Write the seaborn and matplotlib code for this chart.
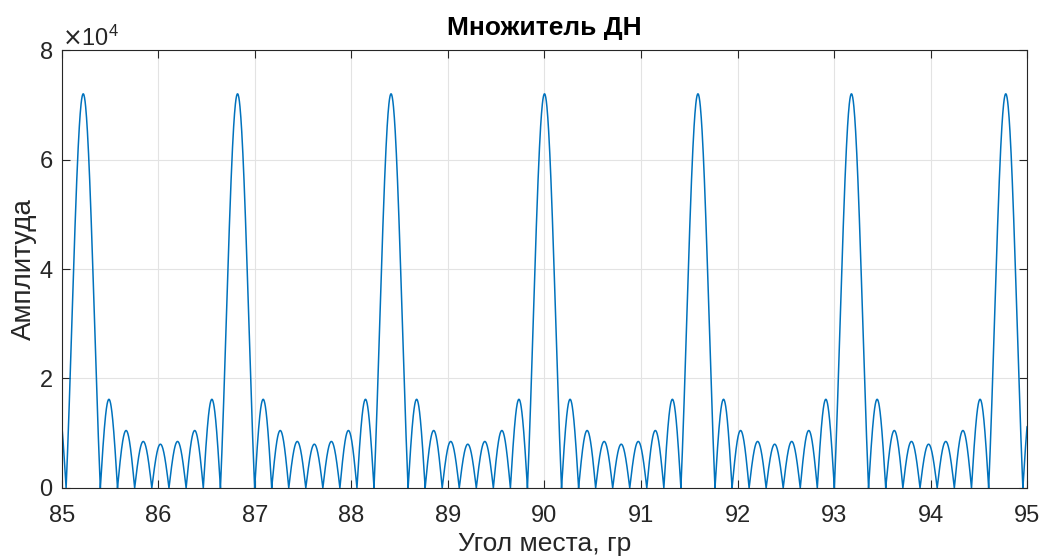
import numpy as np
import pandas as pd
import matplotlib
matplotlib.use("Agg")
import matplotlib.pyplot as plt
import seaborn as sns
from matplotlib.ticker import ScalarFormatter

# ---- data ----
main_peak_deg = [85.22, 86.82, 88.41, 90.00, 91.59, 93.18, 94.78]   # main-lobe centres
main_peak_amp = [72000, 72000, 72000, 72000, 72000, 72000, 72000]
side_lobe_amp = [16200, 10500, 8500, 8000, 8500, 10500, 16200]     # sidelobes between main lobes
x_ticks = [85, 86, 87, 88, 89, 90, 91, 92, 93, 94, 95]
y_ticks = [0, 20000, 40000, 60000, 80000]

title = "Множитель ДН"
xlabel = "Угол места, гр"
ylabel = "Амплитуда"

# ---- build the lobes (arches between the zeros) ----
period = (main_peak_deg[-1] - main_peak_deg[0]) / (len(main_peak_deg) - 1)
centres = [main_peak_deg[0] - period] + main_peak_deg + [main_peak_deg[-1] + period]
n_zero = len(side_lobe_amp) + 2
segs = []
for i in range(len(centres) - 1):
    a, b = centres[i], centres[i + 1]
    d = (b - a) / n_zero
    z = [a + k * d for k in range(1, n_zero)]
    for k in range(len(side_lobe_amp)):
        segs.append((z[k], z[k + 1], side_lobe_amp[k], False))
    if i < len(centres) - 2:
        d2 = (centres[i + 2] - b) / n_zero
        segs.append((z[-1], b + d2, main_peak_amp[i], True))

xs, ys = [], []
for x0, x1, amp, is_main in segs:
    t = np.linspace(0, 1, 120)
    xs.append(x0 + (x1 - x0) * t)
    shape = np.abs(np.sinc(2 * t - 1)) if is_main else np.abs(np.sin(np.pi * t))
    ys.append(amp * shape)
df = pd.DataFrame({"x": np.concatenate(xs), "y": np.concatenate(ys)})

# ---- style ----
sns.set_theme(style="whitegrid")
plt.rcParams["font.family"] = ["Liberation Sans", "DejaVu Sans"]

fig = plt.figure(figsize=(10.43, 5.57), dpi=100)
ax = fig.add_axes([0.0594, 0.1239, 0.9253, 0.7863])

sns.lineplot(data=df, x="x", y="y", ax=ax, color="#0072BD", linewidth=1.1,
             estimator=None, sort=False)

ax.set_xlim(85, 95)
ax.set_ylim(0, 80000)
ax.set_xticks(x_ticks)
ax.set_yticks(y_ticks)
fmt = ScalarFormatter(useMathText=True)
fmt.set_powerlimits((0, 0))
ax.yaxis.set_major_formatter(fmt)
ax.yaxis.get_offset_text().set_fontsize(17)
ax.yaxis.get_offset_text().set_color("#262626")

ax.set_facecolor("white")
ax.grid(True, color="#e3e3e3", linewidth=0.8)
for s in ax.spines.values():
    s.set_color("#262626")
    s.set_linewidth(0.8)
    s.set_visible(True)
ax.tick_params(axis="both", which="both", direction="in", length=6, width=0.8,
               colors="#262626", labelsize=17, top=True, right=True,
               bottom=True, left=True)
ax.tick_params(axis="x", pad=12)
ax.tick_params(axis="y", pad=6.5)

ax.set_title(title, fontsize=19, fontweight="bold", color="black", pad=11)
ax.set_xlabel(xlabel, fontsize=19, color="#262626", labelpad=4)
ax.set_ylabel(ylabel, fontsize=20, color="#262626", labelpad=1)

fig.savefig("out.png", dpi=100, facecolor="white")
